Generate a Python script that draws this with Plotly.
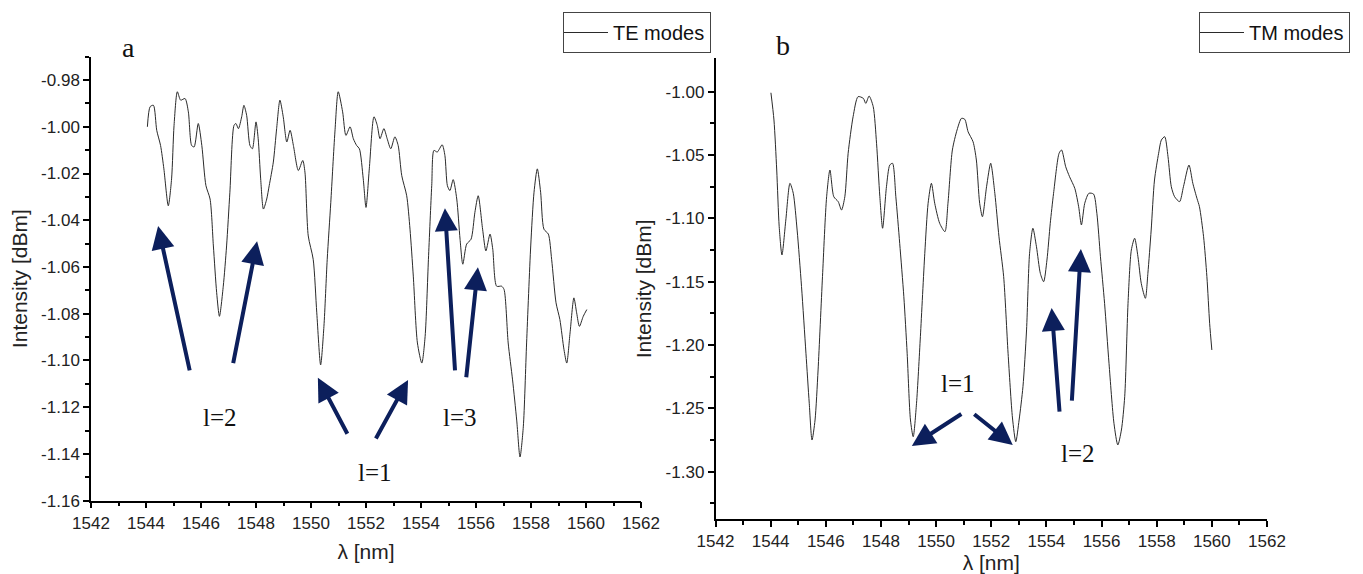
import plotly.graph_objects as go

# ---- TE modes spectrum (panel a) ----
te_wavelength = [
    1544.05, 1544.15, 1544.27, 1544.39, 1544.53, 1544.65, 1544.81, 1544.93, 1545.02, 1545.14,
    1545.26, 1545.42, 1545.54, 1545.66, 1545.75, 1545.90, 1546.03, 1546.18, 1546.33, 1546.45,
    1546.57, 1546.67, 1546.81, 1546.93, 1547.05, 1547.20, 1547.27, 1547.36, 1547.48, 1547.56,
    1547.66, 1547.78, 1547.87, 1548.00, 1548.08, 1548.17, 1548.27, 1548.39, 1548.48, 1548.63,
    1548.75, 1548.87, 1548.99, 1549.12, 1549.24, 1549.36, 1549.54, 1549.70, 1549.78, 1549.90,
    1550.08, 1550.21, 1550.35, 1550.47, 1550.59, 1550.72, 1550.87, 1550.99, 1551.15, 1551.27,
    1551.42, 1551.54, 1551.66, 1551.76, 1551.90, 1552.00, 1552.12, 1552.29, 1552.41, 1552.51,
    1552.65, 1552.77, 1552.90, 1553.05, 1553.17, 1553.30, 1553.48, 1553.60, 1553.72, 1553.87,
    1554.03, 1554.15, 1554.27, 1554.39, 1554.47, 1554.59, 1554.77, 1554.87, 1554.96, 1555.05,
    1555.17, 1555.30, 1555.42, 1555.52, 1555.66, 1555.82, 1555.96, 1556.08, 1556.24, 1556.36,
    1556.51, 1556.61, 1556.75, 1556.93, 1557.02, 1557.17, 1557.33, 1557.48, 1557.60, 1557.72,
    1557.84, 1557.99, 1558.11, 1558.23, 1558.35, 1558.47, 1558.63, 1558.75, 1558.91, 1559.05,
    1559.20, 1559.30, 1559.42, 1559.56, 1559.66, 1559.76, 1559.90, 1560.03,
]
te_intensity = [
    -1.0000, -0.9914, -0.9908, -1.0015, -1.0080, -1.0180, -1.0338, -1.0223, -0.9994, -0.9850,
    -0.9886, -0.9879, -0.9936, -1.0080, -1.0086, -0.9986, -1.0080, -1.0252, -1.0309, -1.0510,
    -1.0710, -1.0811, -1.0682, -1.0510, -1.0280, -0.9994, -0.9986, -1.0008, -0.9957, -0.9908,
    -0.9951, -1.0080, -1.0094, -0.9979, -1.0051, -1.0223, -1.0352, -1.0309, -1.0252, -1.0151,
    -1.0008, -0.9886, -0.9957, -1.0065, -1.0015, -1.0080, -1.0187, -1.0144, -1.0194, -1.0467,
    -1.0567, -1.0796, -1.1019, -1.0854, -1.0567, -1.0323, -1.0022, -0.9850, -0.9936, -1.0037,
    -1.0000, -1.0051, -1.0080, -1.0094, -1.0223, -1.0345, -1.0180, -0.9957, -0.9994, -1.0051,
    -1.0008, -1.0051, -1.0094, -1.0043, -1.0080, -1.0209, -1.0295, -1.0438, -1.0639, -1.0925,
    -1.1011, -1.0897, -1.0567, -1.0252, -1.0101, -1.0108, -1.0077, -1.0123, -1.0252, -1.0273,
    -1.0226, -1.0309, -1.0481, -1.0588, -1.0502, -1.0481, -1.0366, -1.0295, -1.0438, -1.0531,
    -1.0459, -1.0524, -1.0682, -1.0682, -1.0696, -1.0925, -1.1083, -1.1255, -1.1413, -1.1284,
    -1.0925, -1.0510, -1.0280, -1.0180, -1.0280, -1.0438, -1.0459, -1.0567, -1.0753, -1.0825,
    -1.0954, -1.1011, -1.0882, -1.0732, -1.0796, -1.0854, -1.0811, -1.0782,
]

# ---- TM modes spectrum (panel b) ----
tm_wavelength = [
    1544.01, 1544.12, 1544.22, 1544.31, 1544.41, 1544.55, 1544.70, 1544.82, 1544.96, 1545.12,
    1545.28, 1545.40, 1545.50, 1545.61, 1545.72, 1545.88, 1546.03, 1546.15, 1546.29, 1546.45,
    1546.57, 1546.69, 1546.81, 1546.99, 1547.17, 1547.36, 1547.45, 1547.57, 1547.72, 1547.84,
    1547.96, 1548.06, 1548.20, 1548.32, 1548.42, 1548.54, 1548.68, 1548.83, 1548.95, 1549.07,
    1549.17, 1549.29, 1549.43, 1549.59, 1549.71, 1549.83, 1549.95, 1550.13, 1550.32, 1550.43,
    1550.59, 1550.76, 1550.92, 1551.04, 1551.16, 1551.34, 1551.46, 1551.58, 1551.68, 1551.83,
    1551.98, 1552.13, 1552.28, 1552.45, 1552.61, 1552.77, 1552.89, 1553.01, 1553.15, 1553.28,
    1553.39, 1553.51, 1553.64, 1553.78, 1553.90, 1554.02, 1554.14, 1554.26, 1554.46, 1554.55,
    1554.70, 1554.84, 1555.03, 1555.17, 1555.27, 1555.39, 1555.54, 1555.71, 1555.83, 1555.96,
    1556.11, 1556.27, 1556.45, 1556.59, 1556.72, 1556.84, 1556.96, 1557.08, 1557.20, 1557.32,
    1557.44, 1557.59, 1557.68, 1557.80, 1557.92, 1558.07, 1558.17, 1558.29, 1558.41, 1558.53,
    1558.65, 1558.83, 1558.97, 1559.17, 1559.31, 1559.46, 1559.55, 1559.70, 1559.82, 1559.92,
    1560.00,
]
tm_intensity = [
    -1.0008, -1.0223, -1.0618, -1.1066, -1.1289, -1.1013, -1.0723, -1.0802, -1.1092, -1.1539,
    -1.2065, -1.2460, -1.2750, -1.2592, -1.2197, -1.1460, -1.0829, -1.0618, -1.0829, -1.0868,
    -1.0934, -1.0829, -1.0486, -1.0197, -1.0039, -1.0052, -1.0092, -1.0034, -1.0118, -1.0407,
    -1.0829, -1.1078, -1.0750, -1.0579, -1.0565, -1.0829, -1.1197, -1.1618, -1.2065, -1.2592,
    -1.2724, -1.2460, -1.1934, -1.1276, -1.0881, -1.0723, -1.0881, -1.1039, -1.1105, -1.0881,
    -1.0460, -1.0302, -1.0210, -1.0218, -1.0316, -1.0395, -1.0539, -1.0881, -1.0987, -1.0750,
    -1.0565, -1.0802, -1.1145, -1.1460, -1.2065, -1.2576, -1.2763, -1.2592, -1.2329, -1.1881,
    -1.1276, -1.1078, -1.1224, -1.1434, -1.1500, -1.1329, -1.1039, -1.0802, -1.0486, -1.0460,
    -1.0592, -1.0671, -1.0763, -1.0908, -1.1052, -1.0881, -1.0802, -1.0808, -1.0960, -1.1303,
    -1.1671, -1.2144, -1.2618, -1.2789, -1.2671, -1.2408, -1.1671, -1.1250, -1.1157, -1.1303,
    -1.1513, -1.1631, -1.1434, -1.1092, -1.0697, -1.0486, -1.0381, -1.0355, -1.0513, -1.0750,
    -1.0829, -1.0868, -1.0750, -1.0579, -1.0723, -1.0842, -1.0908, -1.1145, -1.1460, -1.1828,
    -1.2039,
]

x_ticks = list(range(1542, 1563, 2))
te_y_ticks = [-0.98, -1.00, -1.02, -1.04, -1.06, -1.08, -1.10, -1.12, -1.14, -1.16]
tm_y_ticks = [-1.00, -1.05, -1.10, -1.15, -1.20, -1.25, -1.30]

# Mode-order arrows: (head wavelength, head intensity, tail wavelength, tail intensity)
te_arrows = [
    (1544.44, -1.0425, 1545.60, -1.1049),
    (1548.04, -1.0490, 1547.16, -1.1018),
    (1550.25, -1.1074, 1551.35, -1.1320),
    (1553.53, -1.1083, 1552.33, -1.1340),
    (1554.87, -1.0348, 1555.24, -1.1049),
    (1556.07, -1.0601, 1555.64, -1.1078),
]
te_labels = [("l=2", 1546.70, -1.1242), ("l=1", 1552.33, -1.1480), ("l=3", 1555.42, -1.1245)]

tm_arrows = [
    (1549.12, -1.2797, 1550.97, -1.2537),
    (1552.78, -1.2789, 1551.33, -1.2537),
    (1554.19, -1.1707, 1554.48, -1.2537),
    (1555.25, -1.1242, 1554.92, -1.2450),
]
tm_labels = [("l=1", 1550.79, -1.2300), ("l=2", 1555.13, -1.2853)]

W, H = 1363, 574
ARROW = "#0c1f5c"
SANS = "Liberation Sans Narrow, Arial Narrow, Liberation Sans, Arial"
TICK_FONT = dict(family=SANS, size=17, color="#222")
TITLE_FONT = dict(family="Liberation Sans, Arial", size=21, color="#222")
LEGEND_FONT = dict(family="Liberation Sans, Arial", size=20, color="#111")
SERIF = "Liberation Serif, DejaVu Serif, serif"

fig = go.Figure()
fig.add_trace(go.Scatter(
    x=te_wavelength, y=te_intensity, mode="lines", name="TE modes",
    line=dict(color="#2a2a2a", width=1, shape="spline", smoothing=0.7),
    xaxis="x", yaxis="y", legend="legend",
))
fig.add_trace(go.Scatter(
    x=tm_wavelength, y=tm_intensity, mode="lines", name="TM modes",
    line=dict(color="#2a2a2a", width=1, shape="spline", smoothing=0.7),
    xaxis="x2", yaxis="y2", legend="legend2",
))

def axis_style(**kw):
    base = dict(
        showline=True, linecolor="black", linewidth=1.5, mirror=False, automargin=False,
        showgrid=False, zeroline=False, ticks="outside", ticklen=6, tickwidth=1.5,
        tickcolor="black", tickfont=TICK_FONT,
        minor=dict(ticks="outside", ticklen=4, tickwidth=1.5, tickcolor="black", showgrid=False),
    )
    base.update(kw)
    return base

legend_common = dict(
    xanchor="right", yanchor="top", bordercolor="#444", borderwidth=1, bgcolor="white",
    font=LEGEND_FONT, itemwidth=45, tracegroupgap=0, indentation=-6,
)

fig.update_layout(
    width=W, height=H,
    margin=dict(l=0, r=0, t=0, b=0, autoexpand=False),
    paper_bgcolor="white", plot_bgcolor="white",
    showlegend=True,
    xaxis=axis_style(domain=[91 / W, 641 / W], range=[1542, 1562], tickvals=x_ticks,
                     minor_dtick=1, anchor="y",
                     title=dict(text="λ [nm]", font=TITLE_FONT, standoff=12)),
    yaxis=axis_style(domain=[1 - 500.7 / H, 1 - 56.7 / H], range=[-1.16, -0.97],
                     tickvals=te_y_ticks, ticktext=[f"{v:.2f}" for v in te_y_ticks],
                     minor_dtick=0.01, anchor="x",
                     title=dict(text="Intensity [dBm]", font=TITLE_FONT, standoff=8)),
    xaxis2=axis_style(domain=[715.5 / W, 1267 / W], range=[1542, 1562], tickvals=x_ticks,
                      minor_dtick=1, anchor="y2",
                      title=dict(text="λ [nm]", font=TITLE_FONT, standoff=12)),
    yaxis2=axis_style(domain=[1 - 519.3 / H, 1 - 58.3 / H], range=[-1.3376, -0.9736],
                      tickvals=tm_y_ticks, ticktext=[f"{v:.2f}" for v in tm_y_ticks],
                      minor=dict(ticks="outside", ticklen=4, tickwidth=1.5, tickcolor="black",
                                 tickvals=[-1.025, -1.075, -1.125, -1.175, -1.225, -1.275, -1.325]),
                      anchor="x2",
                      title=dict(text="Intensity [dBm]", font=TITLE_FONT, standoff=8)),
    legend=dict(x=711 / W, y=1 - 12 / H, **legend_common),
    legend2=dict(x=1350 / W, y=1 - 12 / H, **legend_common),
)

annotations = []
for xr, yr, arrows, labels in (("x", "y", te_arrows, te_labels), ("x2", "y2", tm_arrows, tm_labels)):
    for hx, hy, tx, ty in arrows:
        annotations.append(dict(
            x=hx, y=hy, ax=tx, ay=ty, xref=xr, yref=yr, axref=xr, ayref=yr,
            text="", showarrow=True, arrowhead=2, arrowsize=1.15, arrowwidth=4,
            arrowcolor=ARROW,
        ))
    for txt, lx, ly in labels:
        annotations.append(dict(
            x=lx, y=ly, xref=xr, yref=yr, text=txt, showarrow=False,
            font=dict(family=SERIF, size=25, color="#111"),
        ))

# Panel letters
for letter, px, py in (("a", 128, 48), ("b", 783, 45)):
    annotations.append(dict(
        x=px / W, y=1 - py / H, xref="paper", yref="paper", text=letter,
        xanchor="center", yanchor="middle", showarrow=False,
        font=dict(family=SERIF, size=28, color="#111"),
    ))

fig.update_layout(annotations=annotations)
fig.write_html("out.html")
